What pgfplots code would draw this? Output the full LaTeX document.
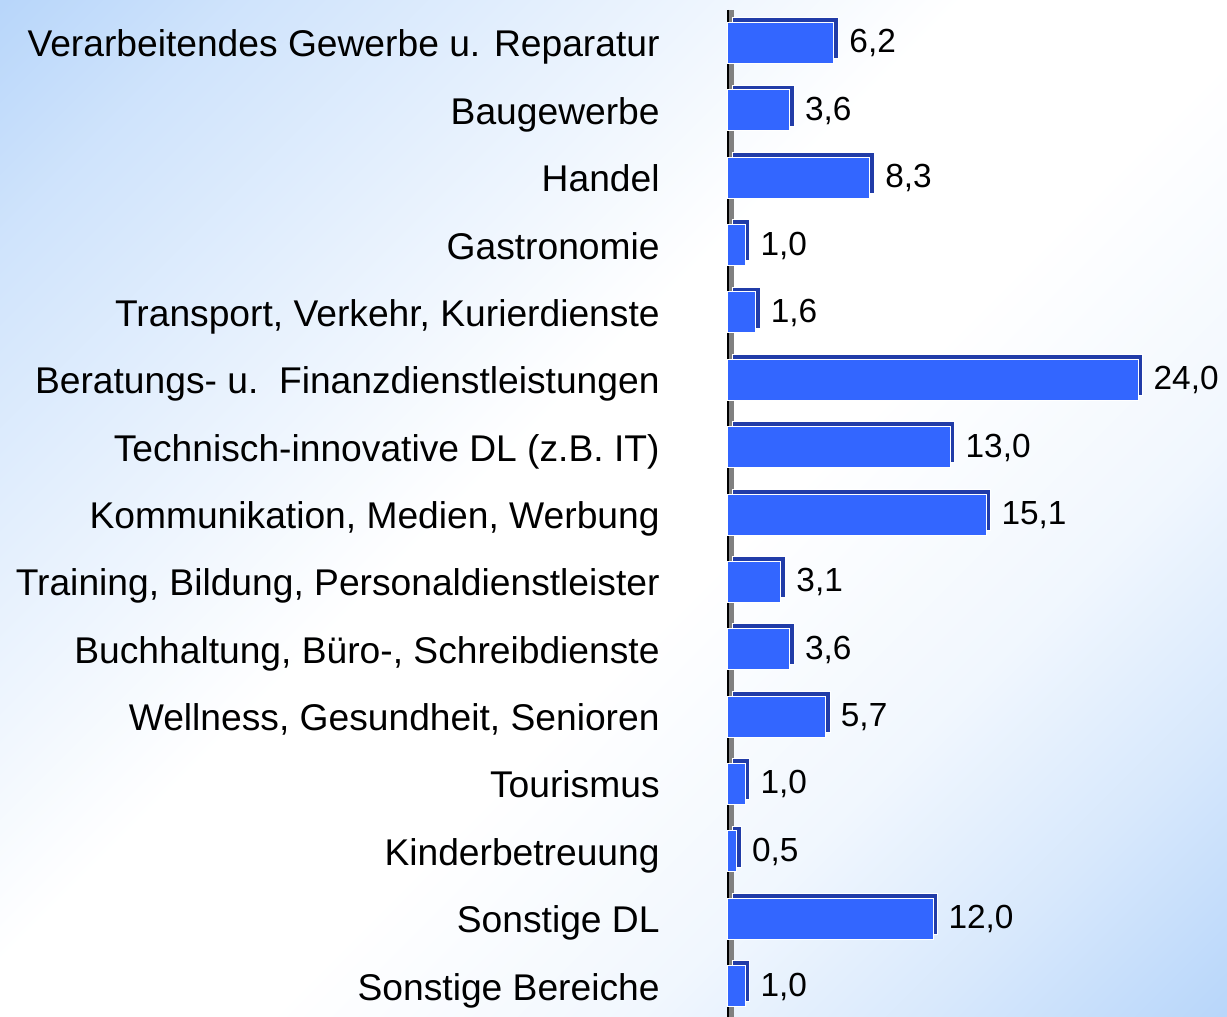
\documentclass[border=0pt]{standalone}
\usepackage{fontspec}
\setmainfont{Liberation Sans}
\usepackage{pgfplots}
\pgfplotsset{compat=1.18}
\definecolor{barface}{RGB}{51,102,255}
\definecolor{barside}{RGB}{33,60,168}
\definecolor{bgblue}{RGB}{184,214,250}
\definecolor{wallgrey}{RGB}{128,128,128}
\pgfdeclareverticalshading{bgsh}{100bp}{color(0bp)=(bgblue); color(14.6bp)=(bgblue); color(24bp)=(bgblue!55!white); color(33bp)=(bgblue!20!white); color(45bp)=(white); color(55bp)=(white); color(68bp)=(bgblue!38!white); color(78bp)=(bgblue!68!white); color(85.4bp)=(bgblue); color(100bp)=(bgblue)}
\begin{document}
\begin{tikzpicture}
\shade[shading=bgsh, shading angle=45] (0,0) rectangle (613.5pt,508.5pt);
\begin{axis}[
  at={(364pt,0pt)}, anchor=south west,
  scale only axis, width=249.5pt, height=508.5pt,
  xmin=0, xmax=29.2, ymin=-0.638, ymax=14.46, y dir=reverse,
  axis line style={draw=none},
  xtick=\empty, ytick={0,...,14}, major tick length=0pt,
  yticklabels={Verarbeitendes Gewerbe u. Reparatur, Baugewerbe, Handel, Gastronomie, {Transport, Verkehr, Kurierdienste}, Beratungs- u.~~Finanzdienstleistungen, Technisch-innovative DL (z.B. IT), {Kommunikation, Medien, Werbung}, {Training, Bildung, Personaldienstleister}, {Buchhaltung, Büro-, Schreibdienste}, {Wellness, Gesundheit, Senioren}, Tourismus, Kinderbetreuung, Sonstige DL, Sonstige Bereiche},
  yticklabel style={font=\fontsize{18.6}{22}\selectfont, anchor=base east, inner sep=0pt, xshift=-34pt, yshift=-7pt},
  clip=false,
]
\fill[wallgrey] (axis cs:0,-0.49) rectangle ([xshift=3pt]axis cs:0,14.46);
\draw[black, line width=0.6pt] (axis cs:0,-0.49) -- (axis cs:0,14.46);
\addplot[xbar, bar width=20.5pt, bar shift=0pt, fill=barside, draw=white, line width=0.5pt, xshift=2.4pt, yshift=2.4pt] coordinates {
(6.2,0) (3.6,1) (8.3,2) (1.0,3) (1.6,4) (24.0,5) (13.0,6) (15.1,7) (3.1,8) (3.6,9) (5.7,10) (1.0,11) (0.5,12) (12.0,13) (1.0,14)};
\addplot[xbar, bar width=20.5pt, bar shift=0pt, fill=barface, draw=white, line width=0.5pt,
  point meta=x,
  nodes near coords={\pgfmathprintnumber[fixed,fixed zerofill,precision=1,use comma,assume math mode=true]{\pgfplotspointmeta}},
  nodes near coords style={font=\fontsize{16.7}{20}\selectfont, anchor=base west, inner sep=0pt, xshift=7.5pt, yshift=-5pt, text=black}] coordinates {
(6.2,0) (3.6,1) (8.3,2) (1.0,3) (1.6,4) (24.0,5) (13.0,6) (15.1,7) (3.1,8) (3.6,9) (5.7,10) (1.0,11) (0.5,12) (12.0,13) (1.0,14)};
\end{axis}
\pgfresetboundingbox
\useasboundingbox (0,0) rectangle (613.5pt,508.5pt);
\end{tikzpicture}
\end{document}
